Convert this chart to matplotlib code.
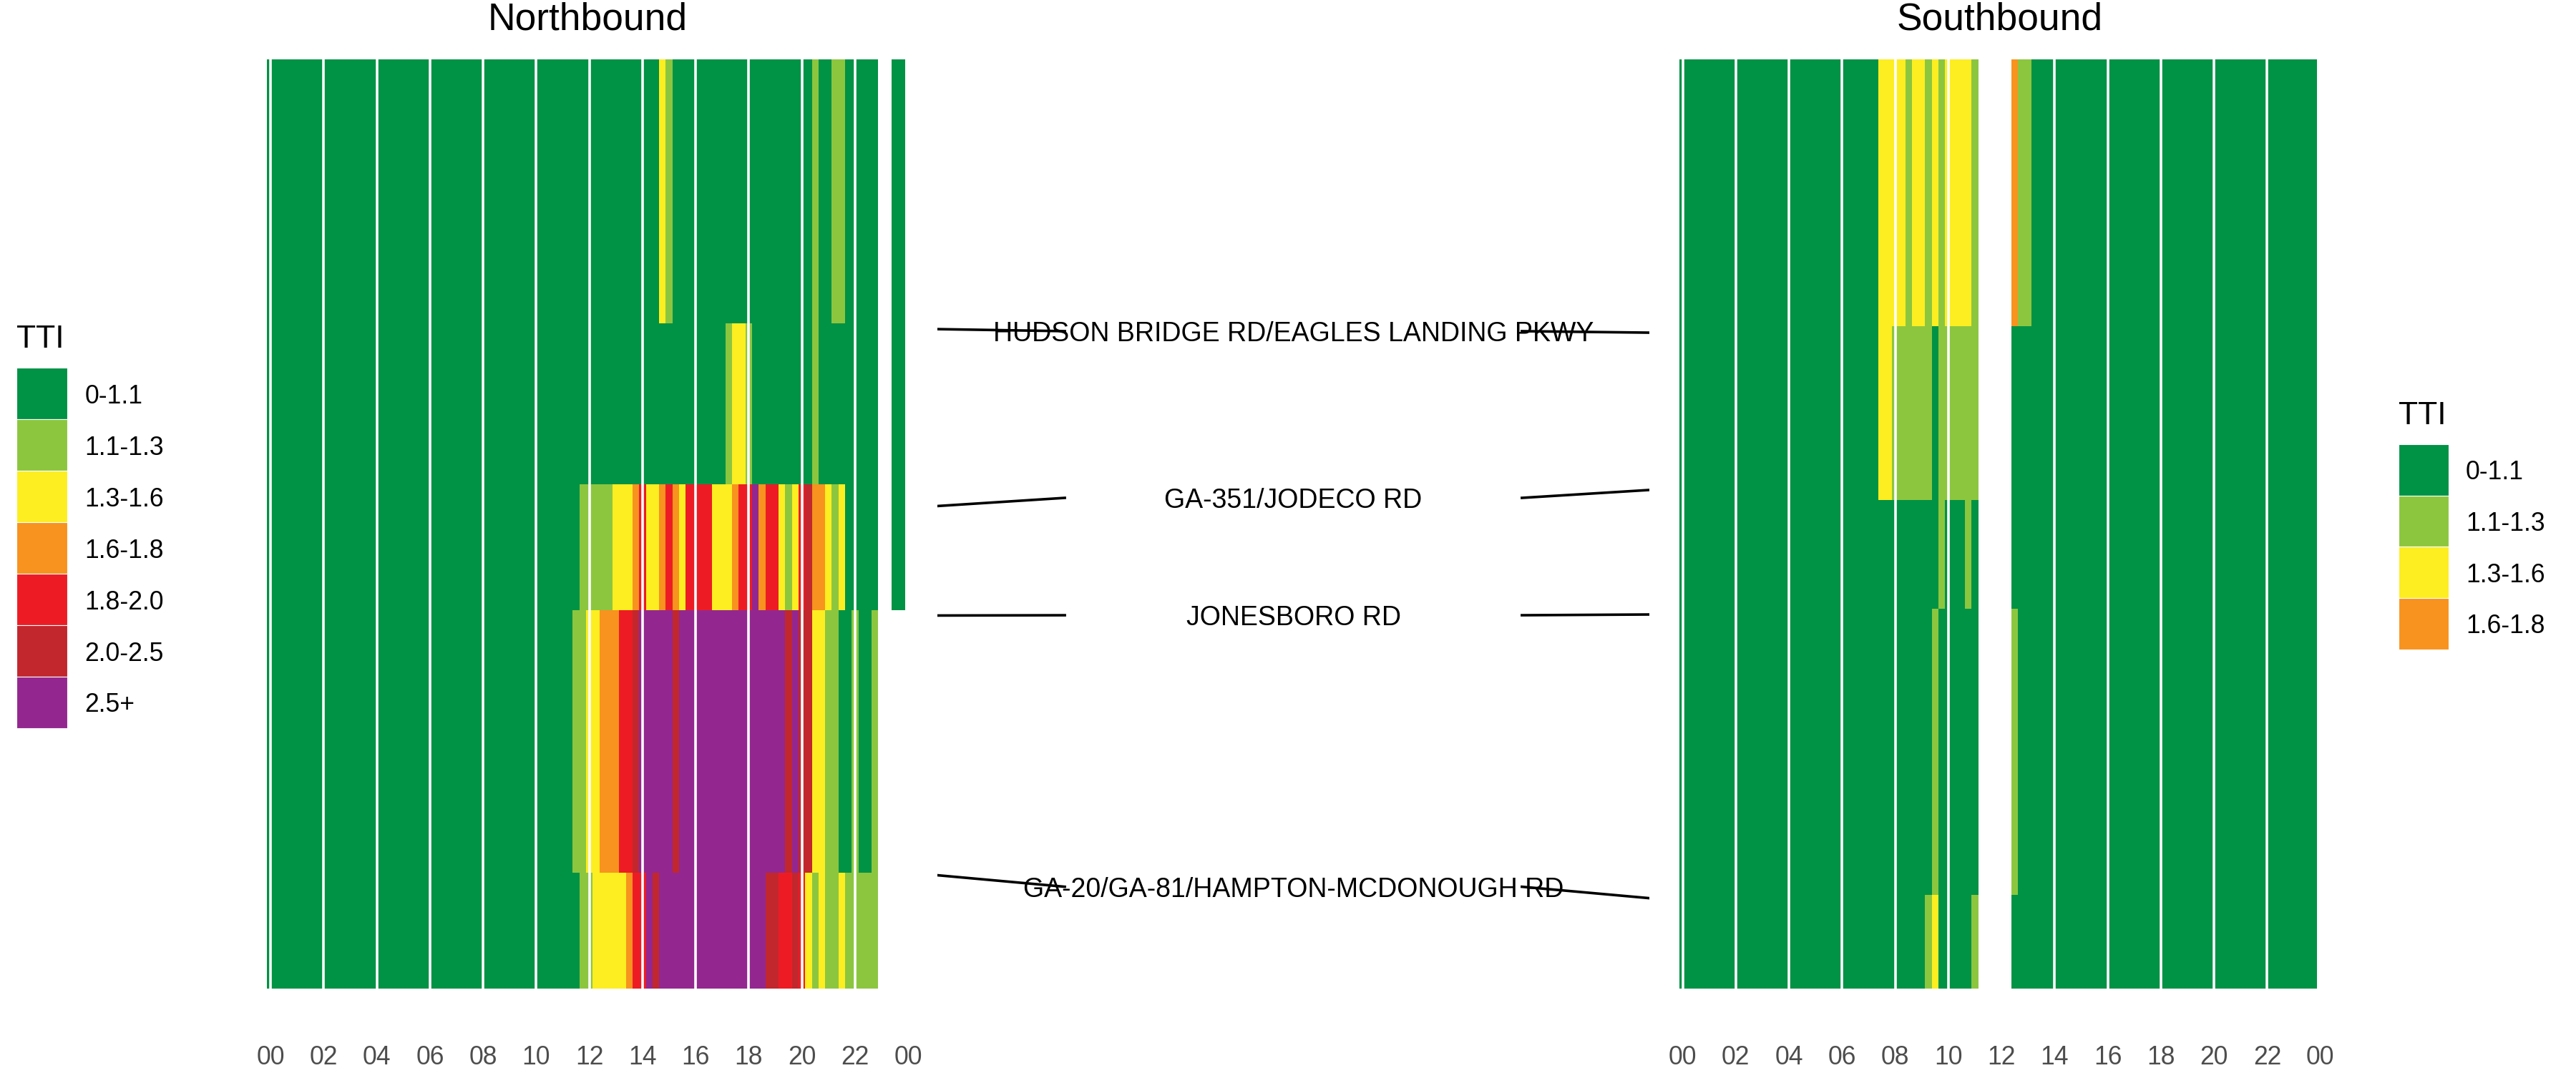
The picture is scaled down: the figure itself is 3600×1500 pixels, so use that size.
import matplotlib.pyplot as plt
import numpy as np
from matplotlib.colors import ListedColormap, BoundaryNorm

plt.rcParams['font.family'] = ['Liberation Sans', 'DejaVu Sans']

# TTI classes
tti_labels = ["0-1.1", "1.1-1.3", "1.3-1.6", "1.6-1.8", "1.8-2.0", "2.0-2.5", "2.5+"]
tti_colors = ["#009245", "#8CC63F", "#FCEE21", "#F7931E", "#ED1C24", "#C1272D", "#93278F"]

# 15-min periods, one character per period, 4 blocks: 00-06 | 06-12 | 12-18 | 18-24
# 0..6 = TTI class index, '.' = no data. Rows go from the top segment down.
Z = "000000000000000000000000"
nb_tti = [
    Z + Z + "000000000002100000000000" + "00000000001001100000..00",
    Z + Z + "000000000000000000000122" + "10000000001000000000..00",
    Z + "000000000000000000000001" + "111122234223432444422234" + "463442124533212" + "00000..00",
    Z + "000000000000000000000011" + "223334456666656666666666" + "66666656552211001001....",
    Z + "000000000000000000000001" + "122222344656666666666666" + "66655445421211211111....",
]
sb_tti = [
    Z + "000000222212212122221..." + "..3110000000000000000000" + Z,
    Z + "000000221111110111111..." + "..0000000000000000000000" + Z,
    Z + "000000000000000100010..." + "..0000000000000000000000" + Z,
    Z + "000000000000001000000..." + "..1000000000000000000000" + Z,
    Z + "000000000000012000001..." + "..0000000000000000000000" + Z,
]

# segment edges along the corridor (relative distance, top = 0)
nb_edges = [0.0, 2.841, 4.573, 5.928, 8.753, 10.0]
sb_edges = [0.0, 2.869, 4.742, 5.916, 8.988, 10.0]

# cross streets: position on NB side, label, SB side
cross_streets = ["HUDSON BRIDGE RD/EAGLES LANDING PKWY", "GA-351/JODECO RD",
                 "JONESBORO RD", "GA-20/GA-81/HAMPTON-MCDONOUGH RD"]
cross_nb = [2.903, 4.807, 5.985, 8.780]
cross_mid = [2.925, 4.719, 5.982, 8.904]
cross_sb = [2.941, 4.634, 5.974, 9.027]

for r in nb_tti + sb_tti:
    assert len(r) == 96, len(r)

time_edges = np.arange(97) * 0.25 - 0.125
cmap = ListedColormap(tti_colors)
norm = BoundaryNorm(np.arange(-0.5, 7.5), 7)

fig = plt.figure(figsize=(36, 15), dpi=100)

W, H = 3600, 1500
panel_bottom = (H - 1382) / H
panel_height = 1299 / H
panel_width = 24.125 * 37.13 / W


def decode(rows):
    codes = np.array([[int(c) if c != '.' else -1 for c in r] for r in rows])
    return np.ma.masked_less(codes, 0)


def draw_panel(left, rows, edges, title):
    ax = fig.add_axes([left, panel_bottom, panel_width, panel_height])
    data = decode(rows)
    ax.pcolormesh(time_edges, edges, data, cmap=cmap, norm=norm)
    for h in range(0, 24, 2):
        ax.axvline(h, color='white', linewidth=2.6)
    ax.set_xlim(-0.125, 24)
    ax.set_ylim(edges[-1], edges[0])
    ax.set_xticks(np.arange(0, 25, 2))
    ax.set_xticklabels([f"{h % 24:02d}" for h in range(0, 25, 2)])
    ax.tick_params(axis='x', length=0, pad=57, labelsize=25.6, labelcolor='#4D4D4D')
    ax.set_yticks([])
    for s in ax.spines.values():
        s.set_visible(False)
    ax.set_title(title, fontsize=38.4, pad=30)
    return data


def draw_legend(rect, codes):
    lax = fig.add_axes(rect)
    n = len(codes)
    lax.barh(np.arange(n), 1, height=1, left=0,
             color=[tti_colors[c] for c in codes], edgecolor='white', linewidth=0.8)
    lax.set_xlim(0, 1)
    lax.set_ylim(n - 0.5, -0.5)
    lax.axis('off')
    for i, c in enumerate(codes):
        lax.text(1.34, i, tti_labels[c], fontsize=25.6, va='center_baseline', ha='left')
    lax.text(0, -0.89, 'TTI', fontsize=32, va='baseline', ha='left')


nb_data = draw_panel(373.4 / W, nb_tti, nb_edges, "Northbound")
sb_data = draw_panel(2346.9 / W, sb_tti, sb_edges, "Southbound")

# legends only list the classes that occur
nb_codes = sorted(set(nb_data.compressed().tolist()))
sb_codes = sorted(set(sb_data.compressed().tolist()))
draw_legend([23 / W, (H - 1018) / H, 71 / W, 504 / H], nb_codes)
draw_legend([3351.7 / W, (H - 907.7) / H, 70.3 / W, 286.7 / H], sb_codes)

# cross street labels in the middle
mid = fig.add_axes([1310 / W, panel_bottom, 995 / W, panel_height])
mid.set_xlim(0, 1)
mid.set_ylim(10, 0)
mid.axis('off')
for name, yn, ym, ys in zip(cross_streets, cross_nb, cross_mid, cross_sb):
    mid.plot([0, 0.179], [yn, ym], color='black', linewidth=2.6, zorder=4)
    mid.plot([0.821, 1], [ym, ys], color='black', linewidth=2.6, zorder=4)
    mid.text(0.5, ym, name, ha='center', va='center_baseline', fontsize=27, zorder=3)

fig.savefig('out.png', dpi=100)
